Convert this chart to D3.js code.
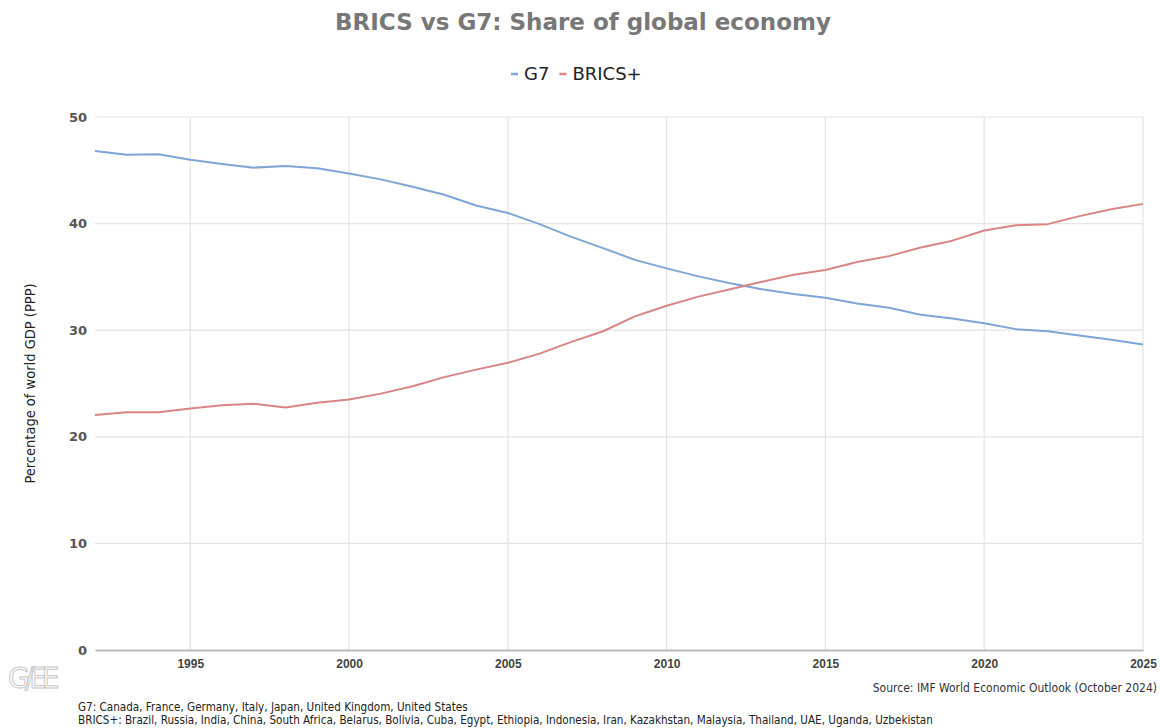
<!DOCTYPE html>
<html>
<head>
<meta charset="utf-8">
<script src="https://cdn.jsdelivr.net/npm/d3@7"></script>
<style>
  body { margin: 0; background: #fff; }
  svg { display: block; }
</style>
</head>
<body>
<div id="chart"></div>
<script>
// ---- data ----
const years = d3.range(1992, 2026);
const g7 = [46.8, 46.45, 46.5, 46.0, 45.6, 45.25, 45.4, 45.2, 44.7, 44.15,
  43.45, 42.7, 41.7, 41.0, 39.95, 38.75, 37.7, 36.6, 35.8, 35.05,
  34.4, 33.85, 33.4, 33.05, 32.5, 32.1, 31.45, 31.1, 30.65, 30.1,
  29.9, 29.5, 29.1, 28.65];
const brics = [22.05, 22.3, 22.3, 22.65, 22.95, 23.1, 22.75, 23.2, 23.5, 24.05,
  24.75, 25.6, 26.3, 26.95, 27.8, 28.9, 29.9, 31.3, 32.3, 33.15,
  33.85, 34.55, 35.2, 35.65, 36.4, 36.95, 37.75, 38.4, 39.35, 39.85,
  39.95, 40.7, 41.35, 41.85];
const seriesNames = ['G7', 'BRICS+'];
const seriesColors = ['#7ea5d6', '#d98585'];
const yTicks = [0, 10, 20, 30, 40, 50];
const xTicks = [1995, 2000, 2005, 2010, 2015, 2020, 2025];
const notes = [
  'G7: Canada, France, Germany, Italy, Japan, United Kingdom, United States',
  'BRICS+: Brazil, Russia, India, China, South Africa, Belarus, Bolivia, Cuba, Egypt, Ethiopia, Indonesia, Iran, Kazakhstan, Malaysia, Thailand, UAE, Uganda, Uzbekistan'
];

const width = 1160, height = 728;
const margin = {top: 117, right: 17, bottom: 78, left: 95};
const font = '"DejaVu Sans Condensed", "DejaVu Sans", sans-serif';

const svg = d3.select('#chart').append('svg')
  .attr('width', width)
  .attr('height', height)
  .style('font-family', font);

const x = d3.scaleLinear()
  .domain([1992, 2025])
  .range([margin.left, width - margin.right]);
const y = d3.scaleLinear()
  .domain([0, 50])
  .range([height - margin.bottom, margin.top]);

// title + legend
svg.append('text')
  .attr('x', 583).attr('y', 30)
  .attr('text-anchor', 'middle')
  .style('font-family', '"DejaVu Sans", sans-serif')
  .style('font-weight', 'bold')
  .style('font-size', '23px')
  .attr('fill', '#777')
  .text('BRICS vs G7: Share of global economy');

const legend = svg.append('g').attr('transform', 'translate(511,80)');
let lx = 0;
seriesNames.forEach((name, i) => {
  legend.append('line')
    .attr('x1', lx).attr('x2', lx + 7)
    .attr('y1', -6).attr('y2', -6)
    .attr('stroke', seriesColors[i]).attr('stroke-width', 2.5);
  const t = legend.append('text')
    .attr('x', lx + 13).attr('y', 0)
    .style('font-family', '"DejaVu Sans", sans-serif')
    .style('font-size', '18px')
    .attr('fill', '#222')
    .text(name);
  lx += 13 + t.node().getComputedTextLength() + 10;
});

// grid
const grid = svg.append('g');
grid.selectAll('line.h')
  .data(yTicks.filter(d => d > 0))
  .enter().append('line')
    .attr('x1', margin.left).attr('x2', width - margin.right)
    .attr('y1', d => y(d)).attr('y2', d => y(d))
    .attr('stroke', '#e4e4e4').attr('stroke-width', 1.2);
grid.selectAll('line.v')
  .data(xTicks)
  .enter().append('line')
    .attr('x1', d => x(d)).attr('x2', d => x(d))
    .attr('y1', margin.top).attr('y2', y(0))
    .attr('stroke', '#e4e4e4').attr('stroke-width', 1.2);

// axes
const yAxis = svg.append('g')
  .attr('transform', `translate(${margin.left},0)`)
  .call(d3.axisLeft(y).tickValues(yTicks).tickSize(0).tickPadding(8));
yAxis.select('.domain').remove();
yAxis.selectAll('text')
  .style('font-family', '"DejaVu Sans", sans-serif')
  .style('font-size', '13px')
  .style('font-weight', 'bold')
  .attr('fill', '#555');

const xAxis = svg.append('g')
  .attr('transform', `translate(0,${y(0)})`)
  .call(d3.axisBottom(x).tickValues(xTicks).tickFormat(d3.format('d')).tickSize(0).tickPadding(9));
xAxis.select('.domain')
  .attr('stroke', '#bbb').attr('stroke-width', 2);
xAxis.selectAll('text')
  .style('font-size', '12px')
  .style('font-weight', 'bold')
  .attr('fill', '#444');

svg.append('text')
  .attr('transform', `translate(35,${(margin.top + y(0)) / 2}) rotate(-90)`)
  .attr('text-anchor', 'middle')
  .style('font-size', '14.5px')
  .attr('fill', '#222')
  .text('Percentage of world GDP (PPP)');

// lines
const line = d3.line()
  .x((d, i) => x(years[i]))
  .y(d => y(d));
[g7, brics].forEach((vals, i) => {
  svg.append('path')
    .datum(vals)
    .attr('fill', 'none')
    .attr('stroke', seriesColors[i])
    .attr('stroke-width', 2)
    .attr('stroke-linejoin', 'round')
    .attr('d', line);
});

// logo
svg.append('text')
  .attr('x', 8).attr('y', 688)
  .style('font-family', '"DejaVu Sans", sans-serif')
  .style('font-size', '28px')
  .style('letter-spacing', '-5px')
  .attr('fill', '#fff')
  .attr('stroke', '#c8c8c8')
  .attr('stroke-width', 1)
  .text('G/EE');

// source + notes
svg.append('text')
  .attr('x', width - 3).attr('y', 692)
  .attr('text-anchor', 'end')
  .style('font-size', '12px')
  .attr('fill', '#333')
  .text('Source: IMF World Economic Outlook (October 2024)');

svg.selectAll('text.note')
  .data(notes)
  .enter().append('text')
    .attr('class', 'note')
    .attr('x', 78)
    .attr('y', (d, i) => 711 + i * 13)
    .style('font-size', '11.6px')
    .attr('fill', '#222')
    .text(d => d);
</script>
</body>
</html>
